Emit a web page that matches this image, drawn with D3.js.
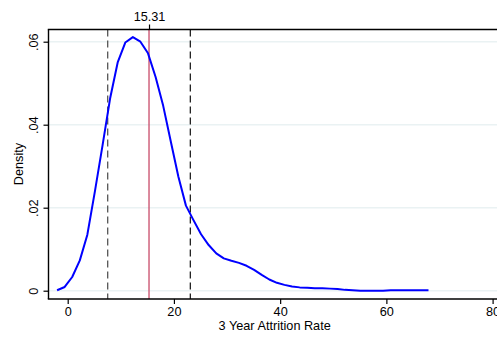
<!DOCTYPE html>
<html>
<head>
<meta charset="utf-8">
<script src="https://cdn.jsdelivr.net/npm/d3@7"></script>
<style>
  body { margin: 0; background: #fff; }
  svg { display: block; font-family: "Liberation Sans", Arial, sans-serif; }
</style>
</head>
<body>
<svg id="chart" width="497" height="337"></svg>
<script>
// kernel density estimate
let rate = [-2.0, -0.57, 0.85, 2.28, 3.70, 5.13, 6.56, 7.98, 9.41, 10.84,
  12.27, 13.69, 15.12, 16.55, 17.97, 19.40, 20.83, 22.26, 23.68, 25.11,
  26.54, 27.97, 29.39, 30.82, 32.25, 33.68, 35.10, 36.53, 37.96, 39.39,
  40.81, 42.24, 43.67, 45.10, 46.52, 47.95, 49.38, 50.81, 52.23, 53.66,
  55.09, 56.52, 57.94, 59.37, 60.80, 62.22, 63.65, 65.08, 66.51, 67.93];
let density = [0.0001, 0.0009, 0.0033, 0.0073, 0.0135, 0.0240, 0.0350, 0.0463, 0.0550, 0.0598,
  0.0611, 0.0600, 0.0572, 0.0515, 0.0446, 0.0360, 0.0275, 0.0205, 0.0170, 0.0136,
  0.0110, 0.0090, 0.0078, 0.0072, 0.0067, 0.0060, 0.0050, 0.0038, 0.0027, 0.0019,
  0.0014, 0.0010, 0.0008, 0.0007, 0.0006, 0.0006, 0.0005, 0.0004, 0.0002, 0.0001,
  0.0000, 0.0000, 0.0000, 0.0000, 0.0001, 0.0001, 0.0001, 0.0001, 0.0001, 0.0001];

let x_ticks = [0, 20, 40, 60, 80];
let y_ticks = [0, 0.02, 0.04, 0.06];
let mean_line = 15.31;
let band_lines = [7.53, 23.09];

let svg = d3.select("#chart");

let plot = { left: 48.5, right: 502, top: 29.5, bottom: 299 };

let scale_x = d3.scaleLinear()
  .domain([0, 80])
  .range([67.7, 492.6]);
let scale_y = d3.scaleLinear()
  .domain([0, 0.06])
  .range([290.7, 41.7]);

// grid
svg.append("g")
  .selectAll("line")
  .data(y_ticks)
  .join("line")
  .attr("x1", plot.left)
  .attr("x2", plot.right)
  .attr("y1", d => scale_y(d))
  .attr("y2", d => scale_y(d))
  .attr("stroke", "#eaf2f3")
  .attr("stroke-width", 1.5);

// reference lines
svg.append("g")
  .selectAll("line")
  .data(band_lines)
  .join("line")
  .attr("x1", d => scale_x(d))
  .attr("x2", d => scale_x(d))
  .attr("y1", plot.top)
  .attr("y2", plot.bottom)
  .attr("stroke", (d, i) => i == 0 ? "#555" : "#222")
  .attr("stroke-width", 1.3)
  .attr("stroke-dasharray", "7,4");

svg.append("line")
  .attr("x1", scale_x(mean_line))
  .attr("x2", scale_x(mean_line))
  .attr("y1", plot.top)
  .attr("y2", plot.bottom)
  .attr("stroke", "#c84a68")
  .attr("stroke-width", 1.3);

// density curve
let curve = d3.line()
  .x((d, i) => scale_x(rate[i]))
  .y(d => scale_y(d));

svg.append("path")
  .datum(density)
  .attr("d", curve)
  .attr("fill", "none")
  .attr("stroke", "#0000ff")
  .attr("stroke-width", 2)
  .attr("stroke-linejoin", "round");

// axes
let axis_x = d3.axisBottom(scale_x)
  .tickValues(x_ticks)
  .tickSize(5)
  .tickPadding(3)
  .tickSizeOuter(0);
let gx = svg.append("g")
  .attr("transform", "translate(0," + plot.bottom + ")")
  .call(axis_x);
gx.select(".domain").remove();
gx.append("line")
  .attr("x1", plot.left - 0.7)
  .attr("x2", plot.right)
  .attr("stroke", "#000")
  .attr("stroke-width", 1.4);

let axis_y = d3.axisLeft(scale_y)
  .tickValues(y_ticks)
  .tickSize(5)
  .tickFormat(d => d == 0 ? "0" : d3.format(".2f")(d).replace(/^0/, ""))
  .tickSizeOuter(0);
let gy = svg.append("g")
  .attr("transform", "translate(" + plot.left + ",0)")
  .call(axis_y);
gy.select(".domain").remove();
gy.append("line")
  .attr("y1", plot.top)
  .attr("y2", plot.bottom)
  .attr("stroke", "#000")
  .attr("stroke-width", 1.4);
gy.selectAll(".tick text")
  .attr("x", null)
  .attr("dy", null)
  .attr("text-anchor", "middle")
  .attr("transform", "translate(-10.5,0) rotate(-90)");

let axis_top = d3.axisTop(scale_x)
  .tickValues([mean_line])
  .tickFormat(d3.format(".2f"))
  .tickSize(5)
  .tickPadding(4)
  .tickSizeOuter(0);
let gt = svg.append("g")
  .attr("transform", "translate(0," + plot.top + ")")
  .call(axis_top);
gt.select(".domain").remove();
gt.append("line")
  .attr("x1", plot.left - 0.7)
  .attr("x2", plot.right)
  .attr("stroke", "#000")
  .attr("stroke-width", 1.4);

svg.selectAll(".tick line").attr("stroke-width", 1.2);
svg.selectAll(".tick text")
  .attr("font-size", 12.7)
  .attr("font-family", "Liberation Sans, Arial, sans-serif")
  .attr("fill", "#000");

// titles
svg.append("text")
  .attr("x", 274.7)
  .attr("y", 330)
  .attr("text-anchor", "middle")
  .attr("font-size", 12.7)
  .text("3 Year Attrition Rate");

svg.append("text")
  .attr("transform", "translate(23,164) rotate(-90)")
  .attr("text-anchor", "middle")
  .attr("font-size", 12.7)
  .text("Density");
</script>
</body>
</html>
